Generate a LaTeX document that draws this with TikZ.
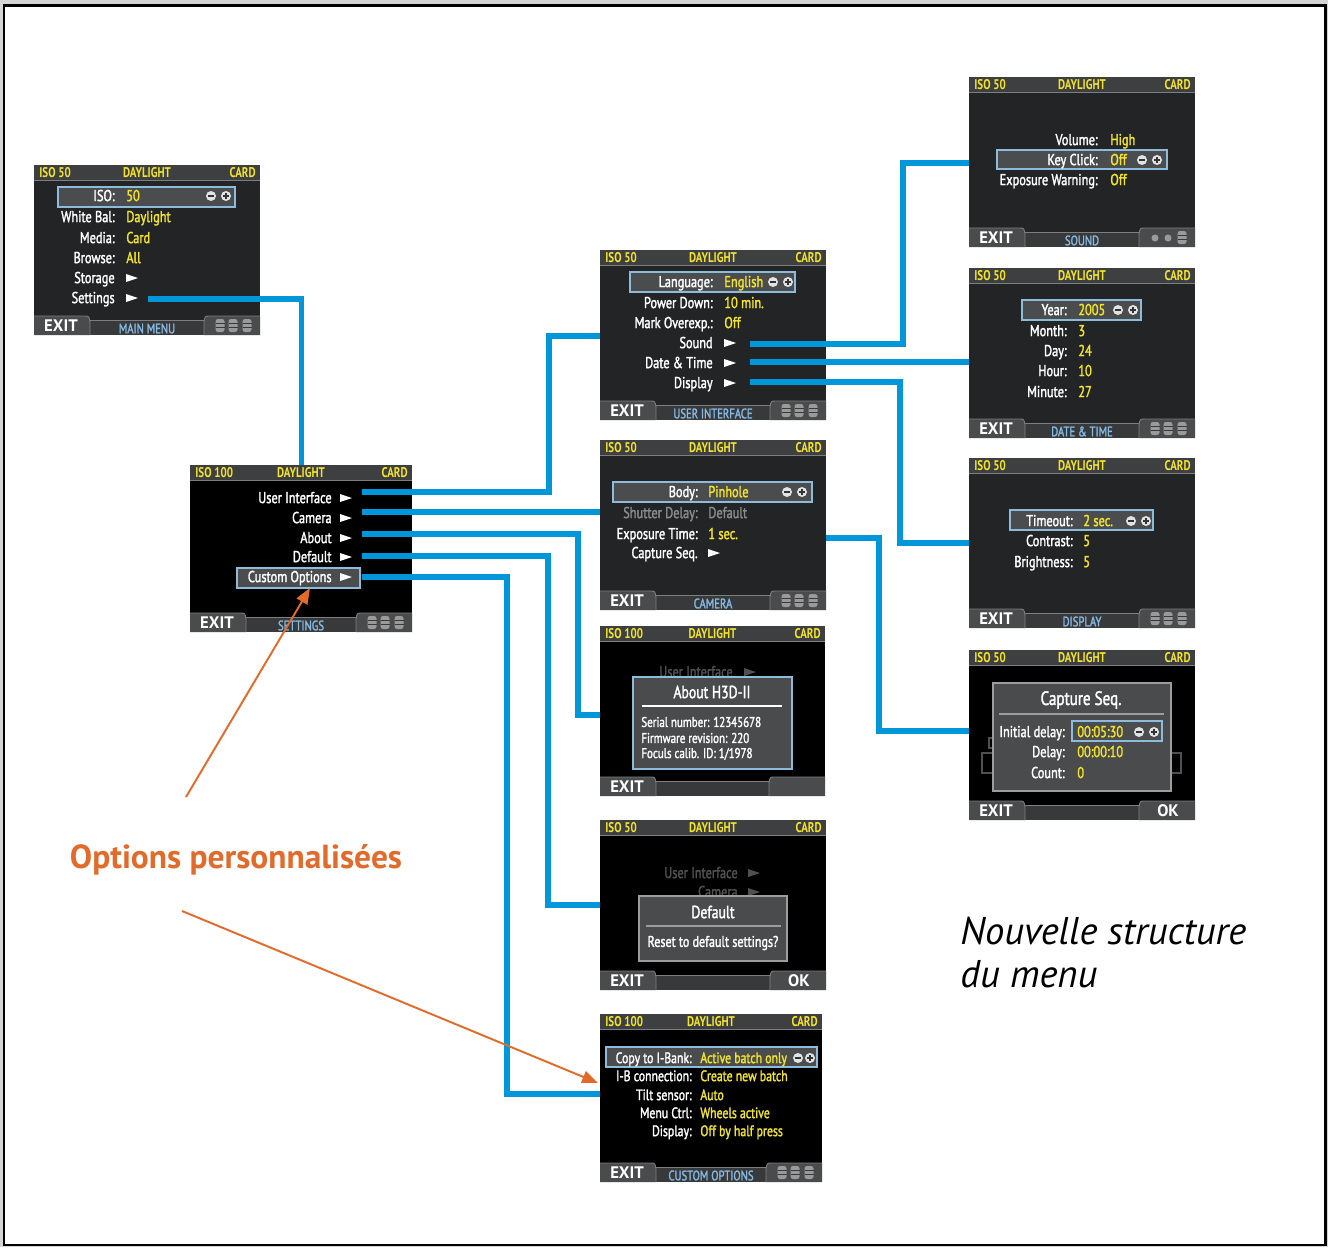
\documentclass[tikz,border=0pt]{standalone}
\usepackage{fontspec}
\usetikzlibrary{calc,arrows.meta}
\newfontfamily\condfont[FakeStretch=0.78]{PT Sans}
\newfontfamily\lcdfont[FakeStretch=0.78, FakeBold=1.8]{PT Sans}
\newfontfamily\plainsans{PT Sans}

\definecolor{lcdGrey}{HTML}{232425}
\definecolor{barGrey}{HTML}{3E3F40}
\definecolor{barLine}{HTML}{7E7E7E}
\definecolor{tabGrey}{HTML}{4A4B4C}
\definecolor{stripGrey}{HTML}{38393A}
\definecolor{hiFill}{HTML}{4B4C4D}
\definecolor{hiBlue}{HTML}{8DBBDC}
\definecolor{lcdYellow}{HTML}{F2E32B}
\definecolor{tabBlue}{HTML}{86BAE4}
\definecolor{linkBlue}{HTML}{0096DA}
\definecolor{noteOrange}{HTML}{E26A2A}
\definecolor{iconGrey}{HTML}{E2E2E2}
\definecolor{wheelGrey}{HTML}{9A9A9A}
\definecolor{fadeGrey}{HTML}{505050}
\definecolor{dimGrey}{HTML}{8A8A8A}
\definecolor{dlgFill}{HTML}{4A4B4C}
\definecolor{dlgLine}{HTML}{9C9C9C}
\definecolor{pageGrey}{HTML}{D4D4D4}

\tikzset{
  screen/.style 2 args={inner sep=0pt, anchor=north west, minimum width=#1*0.02cm, minimum height=#2*0.02cm},
  bartext/.style={text=lcdYellow, inner sep=0pt, font=\condfont\bfseries\fontsize{8}{9}\selectfont},
  lbl/.style={text=white, anchor=east, inner sep=0pt, text height=7.4pt, text depth=1.6pt, font=\lcdfont\fontsize{9}{10}\selectfont},
  val/.style={lbl, text=lcdYellow, anchor=west},
  hilite/.style={draw=hiBlue, fill=hiFill, line width=0.9pt},
  dialog/.style={draw=dlgLine, fill=dlgFill, line width=0.9pt},
  dlgtext/.style={text=white, inner sep=0pt, font=\lcdfont\fontsize{8}{9}\selectfont},
  dlgtitle/.style={text=white, inner sep=0pt, font=\lcdfont\fontsize{10}{11}\selectfont},
  exittext/.style={text=white, inner sep=0pt, font=\plainsans\bfseries\fontsize{9.5}{10}\selectfont},
  tabtext/.style={text=tabBlue, inner sep=0pt, font=\lcdfont\fontsize{7.8}{9}\selectfont},
  link/.style={draw=linkBlue, line width=2.9pt},
  note/.style={draw=noteOrange, line width=1.1pt, -{Triangle[length=9pt,width=7pt]}},
}

% top status bar of a screen
\newcommand{\lcdtop}[2]{%
  \fill[barGrey] (0,0) rectangle (\sw,15);
  \draw[barLine, line width=0.5pt] (0,15) -- (\sw,15);
  \node[bartext, anchor=west] (#1-iso) at (5,7.8) {#2};
  \node[bartext] (#1-wb) at (\sw/2,7.8) {DAYLIGHT};
  \node[bartext, anchor=east] (#1-card) at (\sw-4,7.8) {CARD};
}
% bottom soft keys
\newcommand{\lcdbottom}[3]{%
  \fill[stripGrey] (54,\sh-15) rectangle (\sw-54,\sh);
  \draw[barLine, line width=0.5pt] (54,\sh-15) -- (\sw-54,\sh-15);
  \fill[tabGrey] (0,\sh) -- (0,\sh-19) -- (50,\sh-19) .. controls (55,\sh-19) .. (56,\sh-13) -- (56,\sh) -- cycle;
  \draw[barLine, line width=0.5pt] (0,\sh-19) -- (50,\sh-19) .. controls (55,\sh-19) .. (56,\sh-13) -- (56,\sh);
  \fill[tabGrey] (\sw,\sh) -- (\sw,\sh-19) -- (\sw-50,\sh-19) .. controls (\sw-55,\sh-19) .. (\sw-56,\sh-13) -- (\sw-56,\sh) -- cycle;
  \draw[barLine, line width=0.5pt] (\sw,\sh-19) -- (\sw-50,\sh-19) .. controls (\sw-55,\sh-19) .. (\sw-56,\sh-13) -- (\sw-56,\sh);
  \node[exittext] (#1-exit) at (27,\sh-9) {EXIT};
  \node[tabtext] (#1-tab) at (\sw/2,\sh-6.5) {#2};
  #3
}
\newcommand{\wheel}[1]{%
  \fill[wheelGrey, rounded corners=0.5mm] (#1-4.5,\sh-16) rectangle (#1+4.5,\sh-3);
  \draw[stripGrey, line width=0.6pt] (#1-4.5,\sh-11.5) -- (#1+4.5,\sh-11.5) (#1-4.5,\sh-7.5) -- (#1+4.5,\sh-7.5);
}
\newcommand{\wheels}{\wheel{\sw-40}\wheel{\sw-27}\wheel{\sw-13}}
\newcommand{\lcdrow}[4]{%
  \node[lbl] (#1) at (\cx,#2) {#3};
  \node[val] (#1-v) at (\vx,#2) {#4};
}
\newcommand{\lcdtri}[2]{\fill[white] (#1,#2-4) -- (#1+12,#2) -- (#1,#2+4) -- cycle;}
\newcommand{\lcditem}[3]{%
  \node[lbl] (#1) at (\cx,#2) {#3};
  \lcdtri{\vx}{#2}
}
\newcommand{\plusminus}[3][15]{%
  \fill[iconGrey] (#2,#3) circle[radius=5] (#2+#1,#3) circle[radius=5];
  \draw[black!80, line width=1.2pt] (#2-3,#3) -- (#2+3,#3) (#2+#1-3,#3) -- (#2+#1+3,#3) (#2+#1,#3-3) -- (#2+#1,#3+3);
}

\begin{document}
\begin{tikzpicture}[x=0.02cm, y=-0.02cm]
\useasboundingbox (0,0) rectangle (1328,1247);
\fill[pageGrey] (0,0) rectangle (1328,1247);
\draw[black, fill=white, line width=1.6pt] (4,5.5) rectangle (1325.5,1245);

% main menu
\begin{scope}[shift={(34,165)}]
  \def\sw{226}\def\sh{170}\def\cx{81}\def\vx{92}
  \node[screen={226}{170}, fill=lcdGrey] (main) at (0,0) {};
  \lcdtop{main}{ISO 50}
  \draw[hilite] (24,22) rectangle (201,42);
  \lcdrow{main-iso}{31}{ISO:}{50}
  \plusminus{177}{31}
  \lcdrow{main-wb}{52}{White Bal:}{Daylight}
  \lcdrow{main-media}{73}{Media:}{Card}
  \lcdrow{main-browse}{93}{Browse:}{All}
  \lcditem{main-store}{113}{Storage}
  \lcditem{main-set}{133}{Settings}
  \coordinate (main-link) at (114,134);
  \lcdbottom{main}{MAIN MENU}{\wheels}
\end{scope}

% settings
\begin{scope}[shift={(190,465)}]
  \def\sw{222}\def\sh{167}\def\cx{142}\def\vx{150}
  \node[screen={222}{167}, fill=black] (set) at (0,0) {};
  \lcdtop{set}{ISO 100}
  \draw[hilite] (47,103) rectangle (170,123);
  \lcditem{set-ui}{33}{User Interface}
  \lcditem{set-cam}{53}{Camera}
  \lcditem{set-about}{73}{About}
  \lcditem{set-def}{92}{Default}
  \lcditem{set-cust}{112}{Custom Options}
  \coordinate (set-l1) at (172,27);
  \coordinate (set-l2) at (172,47);
  \coordinate (set-l3) at (172,69);
  \coordinate (set-l4) at (172,91);
  \coordinate (set-l5) at (172,112);
  \coordinate (set-box) at (120,123);
  \lcdbottom{set}{SETTINGS}{\wheels}
\end{scope}

% user interface
\begin{scope}[shift={(600,250)}]
  \def\sw{226}\def\sh{170}\def\cx{113}\def\vx{124}
  \node[screen={226}{170}, fill=lcdGrey] (ui) at (0,0) {};
  \lcdtop{ui}{ISO 50}
  \draw[hilite] (30,22) rectangle (195,42);
  \lcdrow{ui-lang}{32}{Language:}{English}
  \plusminus{173}{32}
  \lcdrow{ui-pwr}{53}{Power Down:}{10 min.}
  \lcdrow{ui-mark}{73}{Mark Overexp.:}{Off}
  \lcditem{ui-snd}{93}{Sound}
  \lcditem{ui-date}{113}{Date \& Time}
  \lcditem{ui-disp}{133}{Display}
  \coordinate (ui-in) at (0,86);
  \coordinate (ui-l1) at (150,94);
  \coordinate (ui-l2) at (150,112);
  \coordinate (ui-l3) at (150,132);
  \lcdbottom{ui}{USER INTERFACE}{\wheels}
\end{scope}

% camera
\begin{scope}[shift={(600,440)}]
  \def\sw{226}\def\sh{170}\def\cx{98}\def\vx{108}
  \node[screen={226}{170}, fill=lcdGrey] (cam) at (0,0) {};
  \lcdtop{cam}{ISO 50}
  \draw[hilite] (13,42) rectangle (212,62);
  \lcdrow{cam-body}{52}{Body:}{Pinhole}
  \plusminus{187}{52}
  \node[lbl, text=dimGrey] (cam-shut) at (\cx,73) {Shutter Delay:};
  \node[val, text=dimGrey] (cam-shut-v) at (\vx,73) {Default};
  \lcdrow{cam-exp}{94}{Exposure Time:}{1 sec.}
  \lcditem{cam-seq}{113}{Capture Seq.}
  \coordinate (cam-in) at (0,72);
  \coordinate (cam-l1) at (226,98);
  \lcdbottom{cam}{CAMERA}{\wheels}
\end{scope}

% about
\begin{scope}[shift={(600,626)}]
  \def\sw{225}\def\sh{170}\def\cx{133}\def\vx{144}
  \node[screen={225}{170}, fill=black] (about) at (0,0) {};
  \lcdtop{about}{ISO 100}
  \node[lbl, text=fadeGrey] (about-bg) at (\cx,46) {User Interface};
  \fill[fadeGrey] (\vx,42) -- (\vx+12,46) -- (\vx,50) -- cycle;
  \draw[dialog, draw=hiBlue] (33,51) rectangle (192,143);
  \node[dlgtitle] (about-title) at (112,66) {About H3D-II};
  \draw[white, line width=0.8pt] (42,80) -- (182,80);
  \node[dlgtext, anchor=west] (about-sn) at (41,96) {Serial number: 12345678};
  \node[dlgtext, anchor=west] (about-fw) at (41,112) {Firmware revision: 220};
  \node[dlgtext, anchor=west] (about-fc) at (41,128) {Foculs calib. ID: 1/1978};
  \coordinate (about-in) at (0,89);
  \lcdbottom{about}{}{}
\end{scope}

% default
\begin{scope}[shift={(600,820)}]
  \def\sw{226}\def\sh{170}\def\cx{138}\def\vx{148}
  \node[screen={226}{170}, fill=black] (def) at (0,0) {};
  \lcdtop{def}{ISO 50}
  \node[lbl, text=fadeGrey] (def-bg1) at (\cx,53) {User Interface};
  \fill[fadeGrey] (\vx,49) -- (\vx+12,53) -- (\vx,57) -- cycle;
  \node[lbl, text=fadeGrey] (def-bg2) at (\cx,72) {Camera};
  \fill[fadeGrey] (\vx,68) -- (\vx+12,72) -- (\vx,76) -- cycle;
  \draw[dialog] (39,76) rectangle (187,141);
  \node[dlgtitle] (def-title) at (113,92) {Default};
  \draw[dlgLine, line width=0.8pt] (46,106) -- (181,106);
  \node[dlgtext, font=\lcdfont\fontsize{8.8}{10}\selectfont] (def-ask) at (113,123) {Reset to default settings?};
  \coordinate (def-in) at (0,85);
  \lcdbottom{def}{}{\node[exittext] (def-ok) at (\sw-27,\sh-9) {OK};}
\end{scope}

% custom options
\begin{scope}[shift={(600,1014)}]
  \def\sw{222}\def\sh{168}\def\cx{92}\def\vx{100}
  \node[screen={222}{168}, fill=black] (cust) at (0,0) {};
  \lcdtop{cust}{ISO 100}
  \draw[hilite] (6,33) rectangle (217,53);
  \tikzset{lbl/.append style={font=\lcdfont\fontsize{8.6}{10}\selectfont}}
  \lcdrow{cust-copy}{44}{Copy to I-Bank:}{Active batch only}
  \plusminus[12]{198}{44}
  \lcdrow{cust-ib}{62}{I-B connection:}{Create new batch}
  \lcdrow{cust-tilt}{81}{Tilt sensor:}{Auto}
  \lcdrow{cust-menu}{99}{Menu Ctrl:}{Wheels active}
  \lcdrow{cust-disp}{117}{Display:}{Off by half press}
  \coordinate (cust-in) at (0,80);
  \coordinate (cust-tip) at (-2,69);
  \lcdbottom{cust}{CUSTOM OPTIONS}{\wheels}
\end{scope}

% sound
\begin{scope}[shift={(969,77)}]
  \def\sw{226}\def\sh{170}\def\cx{129}\def\vx{141}
  \node[screen={226}{170}, fill=lcdGrey] (snd) at (0,0) {};
  \lcdtop{snd}{ISO 50}
  \draw[hilite] (28,73) rectangle (198,92);
  \lcdrow{snd-vol}{63}{Volume:}{High}
  \lcdrow{snd-key}{83}{Key Click:}{Off}
  \plusminus{173}{83}
  \lcdrow{snd-exp}{103}{Exposure Warning:}{Off}
  \coordinate (snd-in) at (0,86);
  \lcdbottom{snd}{SOUND}{\fill[wheelGrey] (\sw-40,\sh-9) circle[radius=3.5] (\sw-27,\sh-9) circle[radius=3.5]; \wheel{\sw-13}}
\end{scope}

% date & time
\begin{scope}[shift={(969,268)}]
  \def\sw{226}\def\sh{170}\def\cx{98}\def\vx{109}
  \node[screen={226}{170}, fill=lcdGrey] (date) at (0,0) {};
  \lcdtop{date}{ISO 50}
  \draw[hilite] (53,32) rectangle (172,52);
  \lcdrow{date-year}{42}{Year:}{2005}
  \plusminus{149}{42}
  \lcdrow{date-month}{63}{Month:}{3}
  \lcdrow{date-day}{83}{Day:}{24}
  \lcdrow{date-hour}{103}{Hour:}{10}
  \lcdrow{date-min}{124}{Minute:}{27}
  \coordinate (date-in) at (0,94);
  \lcdbottom{date}{DATE \& TIME}{\wheels}
\end{scope}

% display
\begin{scope}[shift={(969,458)}]
  \def\sw{226}\def\sh{170}\def\cx{104}\def\vx{114}
  \node[screen={226}{170}, fill=lcdGrey] (disp) at (0,0) {};
  \lcdtop{disp}{ISO 50}
  \draw[hilite] (41,52) rectangle (184,72);
  \lcdrow{disp-time}{63}{Timeout:}{2 sec.}
  \plusminus{162}{63}
  \lcdrow{disp-con}{83}{Contrast:}{5}
  \lcdrow{disp-bri}{104}{Brightness:}{5}
  \coordinate (disp-in) at (0,85);
  \lcdbottom{disp}{DISPLAY}{\wheels}
\end{scope}

% capture sequence
\begin{scope}[shift={(969,650)}]
  \def\sw{226}\def\sh{170}\def\cx{96}\def\vx{108}
  \node[screen={226}{170}, fill=black] (capt) at (0,0) {};
  \lcdtop{capt}{ISO 50}
  \draw[fadeGrey, line width=0.8pt] (13,103) rectangle (60,123) (165,103) rectangle (212,123) (20,88) rectangle (30,98);
  \draw[dialog] (24,33) rectangle (202,141);
  \node[dlgtitle, font=\lcdfont\fontsize{11}{12}\selectfont] (capt-title) at (112,50) {Capture Seq.};
  \draw[dlgLine, line width=0.8pt] (30,64) -- (195,64);
  \draw[hilite] (103,71) rectangle (193,91);
  \lcdrow{capt-init}{82}{Initial delay:}{00:05:30}
  \plusminus{170}{82}
  \lcdrow{capt-delay}{102}{Delay:}{00:00:10}
  \lcdrow{capt-count}{123}{Count:}{0}
  \coordinate (capt-in) at (0,81);
  \lcdbottom{capt}{}{\node[exittext] (capt-ok) at (\sw-27,\sh-9) {OK};}
\end{scope}

% links between the menus
\draw[link] (main-link) -| (set.north);
\draw[link] (set-l1) -| ($(ui-in)+(-51,0)$) -- (ui-in);
\draw[link] (set-l2) -- (cam-in);
\draw[link] (set-l3) -| ($(about-in)+(-22,0)$) -- (about-in);
\draw[link] (set-l4) -| ($(def-in)+(-52,0)$) -- (def-in);
\draw[link] (set-l5) -| ($(cust-in)+(-93,0)$) -- (cust-in);
\draw[link] (ui-l1) -| ($(snd-in)+(-66,0)$) -- (snd-in);
\draw[link] (ui-l2) -- (date-in);
\draw[link] (ui-l3) -| ($(disp-in)+(-69,0)$) -- (disp-in);
\draw[link] (cam-l1) -| ($(capt-in)+(-90,0)$) -- (capt-in);

% annotations
\node[text=noteOrange, inner sep=0pt, font=\plainsans\bfseries\fontsize{19}{22}\selectfont] (note) at (236,860) {Options personnalisées};
\coordinate (note-a) at (186,797);
\coordinate (note-b) at (182,911);
\draw[note] (note-a) -- (set-box);
\draw[note] (note-b) -- (cust-tip);
\node[anchor=north west, align=left, inner sep=0pt, font=\plainsans\itshape\fontsize{22}{24.5}\selectfont] (heading) at (960,917) {Nouvelle structure\\du menu};
\end{tikzpicture}
\end{document}
